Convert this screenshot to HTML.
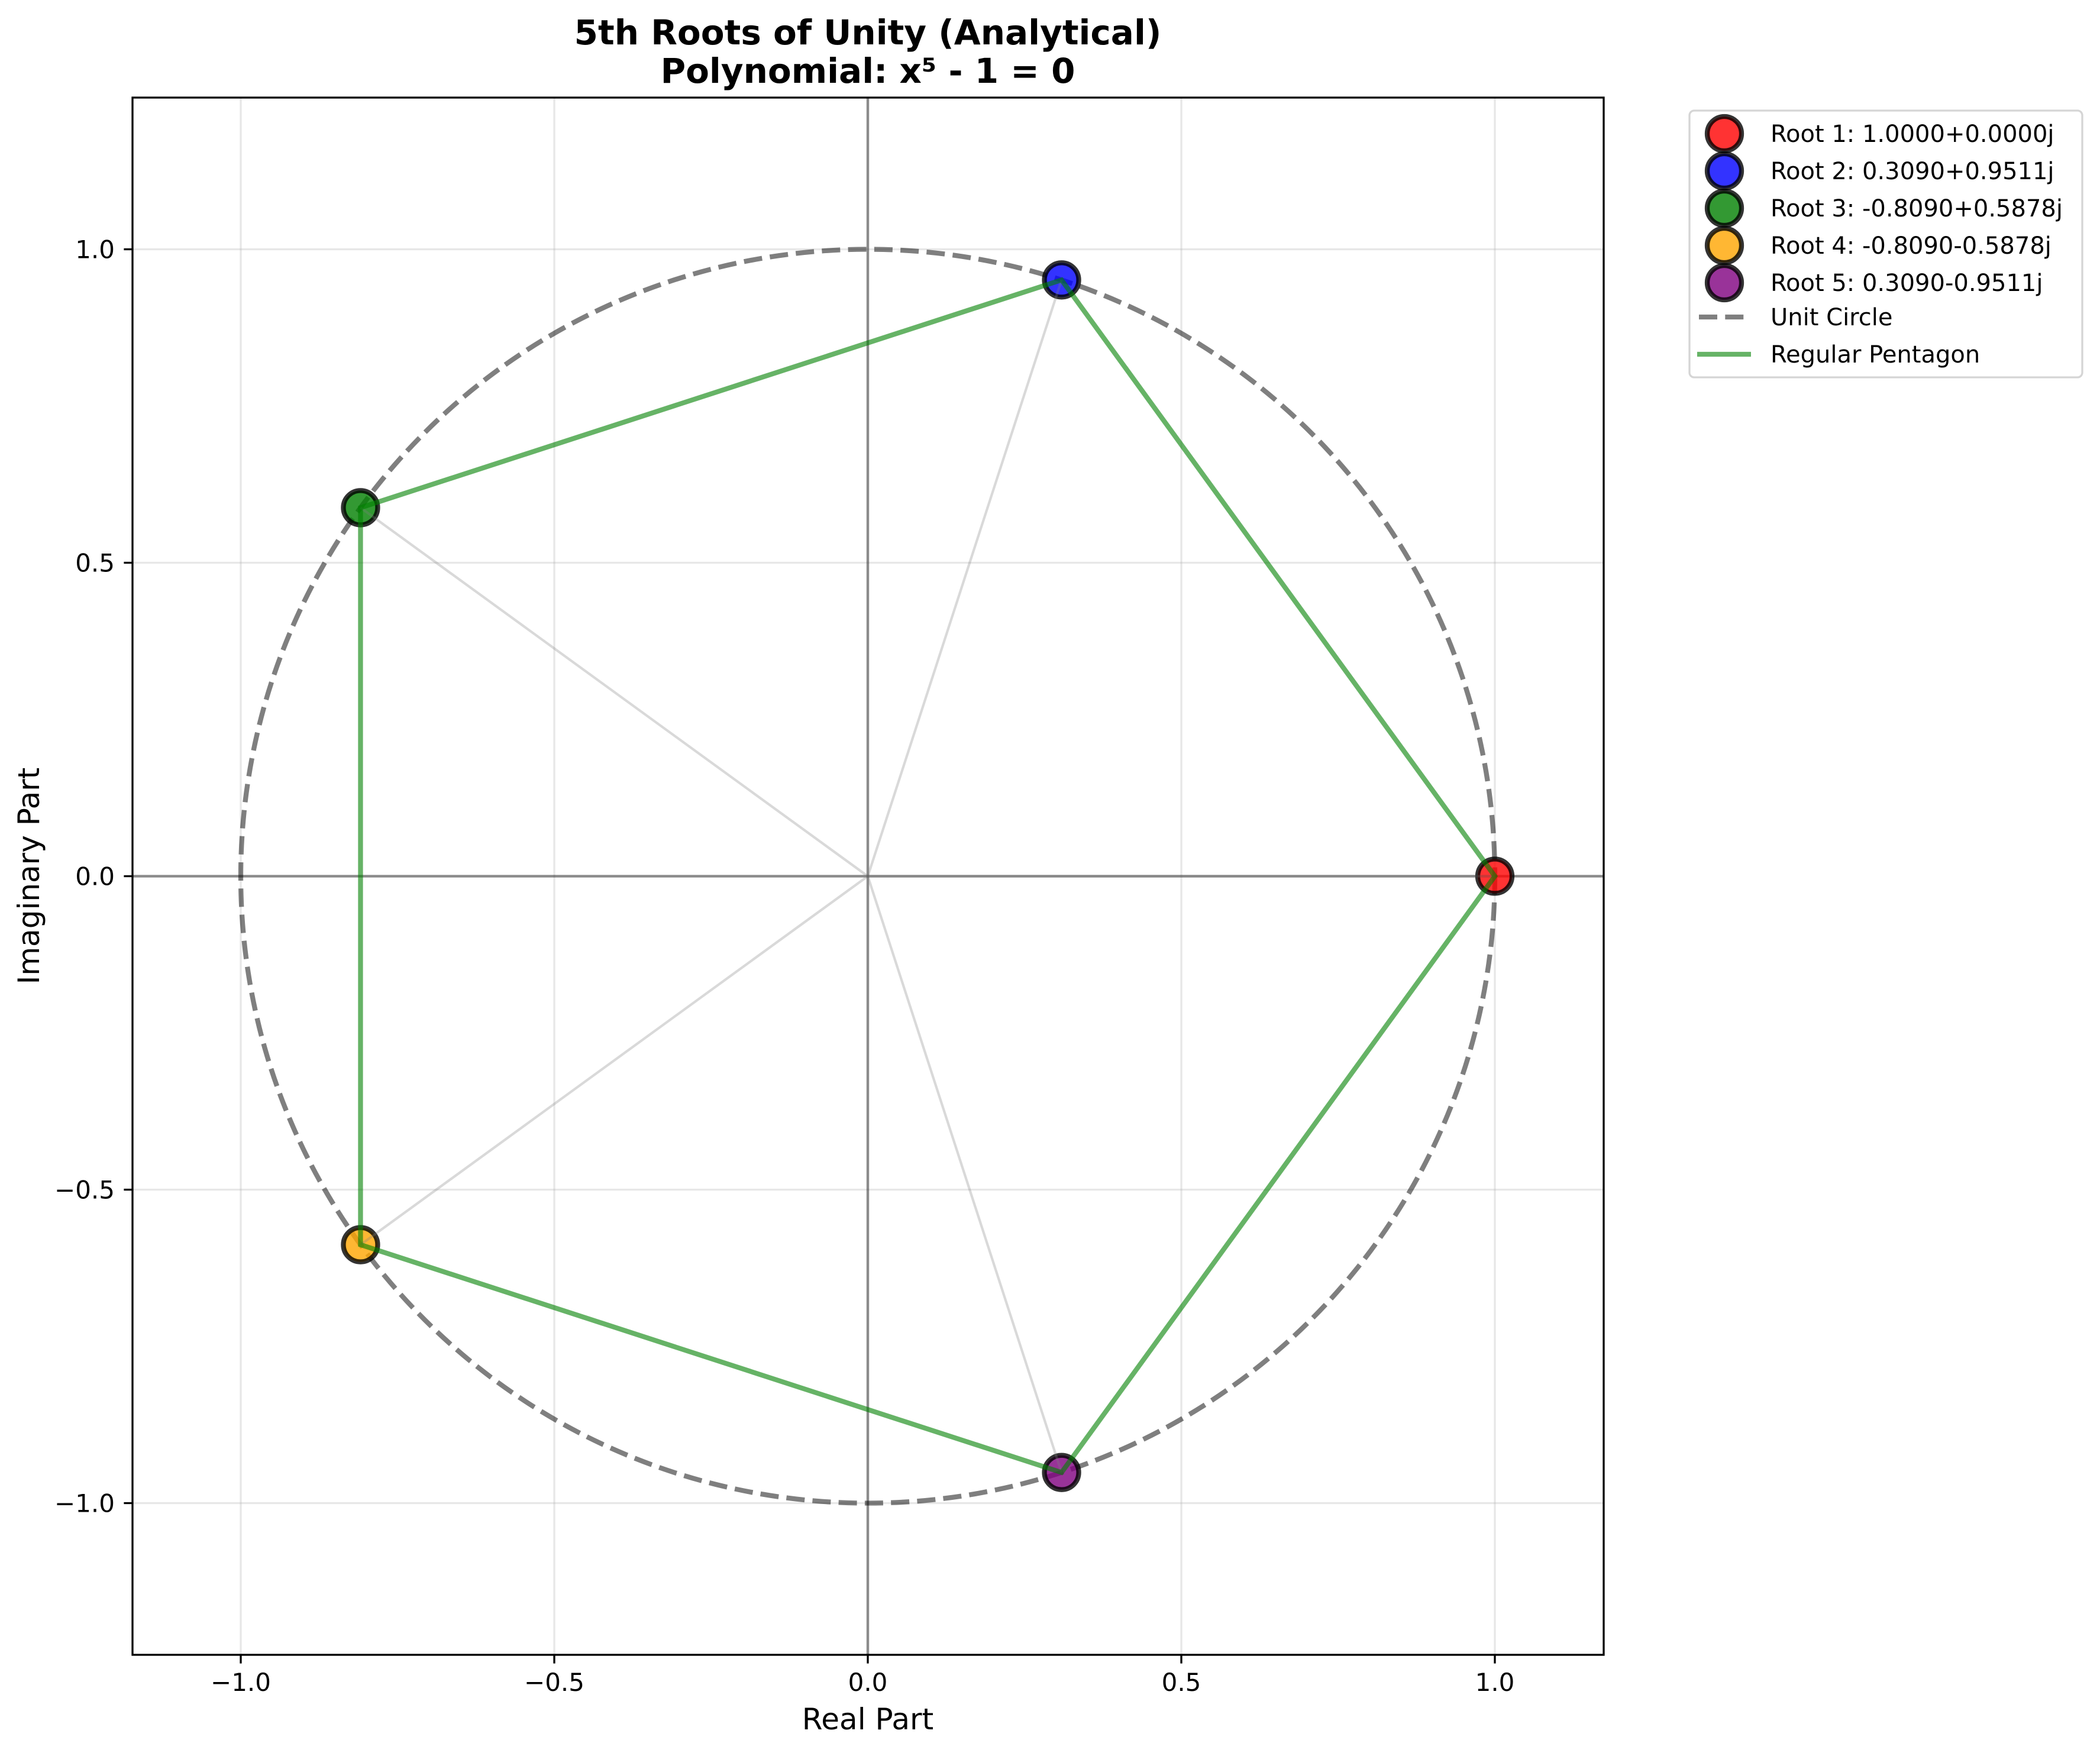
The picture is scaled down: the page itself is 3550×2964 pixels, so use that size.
<!DOCTYPE html>
<html><head><meta charset="utf-8"><style>
body{margin:0;background:#fff}
svg{display:block;font-family:"DejaVu Sans","Liberation Sans",sans-serif}
</style></head><body>
<svg id="chart" width="3550" height="2964" viewBox="0 0 3550 2964" xmlns="http://www.w3.org/2000/svg">
<rect width="3550" height="2964" fill="#fff"/>
<g id="grid"></g>
<g id="plot"></g>
<rect x="224" y="165" width="2487" height="2633" fill="none" stroke="#000" stroke-width="3.3"/>
<g id="ticks"></g>
<text x="1467" y="75" text-anchor="middle" font-size="58" font-weight="bold">5th Roots of Unity (Analytical)</text>
<text x="1467" y="140" text-anchor="middle" font-size="58" font-weight="bold">Polynomial: x⁵ - 1 = 0</text>
<text x="1467" y="2924" text-anchor="middle" font-size="50">Real Part</text>
<text transform="translate(66,1481) rotate(-90)" text-anchor="middle" font-size="50">Imaginary Part</text>
<g id="legend">
<rect x="2856" y="187" width="664" height="451" rx="8" fill="#fff" fill-opacity="0.8" stroke="#d5d5d5" stroke-width="3.3"/>
</g>
</svg>
<script>
const rootRe = [1.0000, 0.3090, -0.8090, -0.8090, 0.3090];
const rootIm = [0.0000, 0.9511, 0.5878, -0.5878, -0.9511];
const rootColors = ['red','blue','green','orange','purple'];
const rootLabels = ['Root 1: 1.0000+0.0000j','Root 2: 0.3090+0.9511j','Root 3: -0.8090+0.5878j','Root 4: -0.8090-0.5878j','Root 5: 0.3090-0.9511j'];
const xTicks = [-1.0,-0.5,0.0,0.5,1.0];
const yTicks = [-1.0,-0.5,0.0,0.5,1.0];
const xTickLabels = ['−1.0','−0.5','0.0','0.5','1.0'];
const yTickLabels = ['−1.0','−0.5','0.0','0.5','1.0'];

const NS='http://www.w3.org/2000/svg';
const L=224,R=2711,T=165,B=2798,CX=1467,CY=1481.5,S=1060;
const X=v=>CX+v*S, Y=v=>CY-v*S;
function mk(tag,attrs,parent){const e=document.createElementNS(NS,tag);for(const k in attrs)e.setAttribute(k,attrs[k]);parent.appendChild(e);return e;}
const grid=document.getElementById('grid'),plot=document.getElementById('plot'),ticks=document.getElementById('ticks'),legend=document.getElementById('legend');

xTicks.forEach((v,i)=>{
  let g=mk('line',{x1:X(v),x2:X(v),y1:T,y2:B,stroke:'#b0b0b0','stroke-opacity':0.3,'stroke-width':3.3},grid);
  
  
  let t=mk('line',{x1:X(v),x2:X(v),y1:B,y2:B+14.6,stroke:'#000','stroke-width':3.3},ticks);
  
  
  let tl=mk('text',{x:X(v),y:2859,'text-anchor':'middle','font-size':42},ticks);
  tl.textContent=xTickLabels[i];
  
  
});
yTicks.forEach((v,i)=>{
  let g=mk('line',{x1:L,x2:R,y1:Y(v),y2:Y(v),stroke:'#b0b0b0','stroke-opacity':0.3,'stroke-width':3.3},grid);
  
  
  let t=mk('line',{x1:L-14.6,x2:L,y1:Y(v),y2:Y(v),stroke:'#000','stroke-width':3.3},ticks);
  
  
  let tl=mk('text',{x:194,y:Y(v)+15,'text-anchor':'end','font-size':42},ticks);
  tl.textContent=yTickLabels[i];
  
  
});
let ax=mk('line',{x1:L,x2:R,y1:Y(0),y2:Y(0),stroke:'#000','stroke-opacity':0.4,'stroke-width':4.5},plot);


let ay=mk('line',{x1:X(0),x2:X(0),y1:T,y2:B,stroke:'#000','stroke-opacity':0.4,'stroke-width':4.5},plot);


let uc=mk('circle',{cx:X(0),cy:Y(0),r:S,fill:'none',stroke:'#000','stroke-opacity':0.5,'stroke-width':8.3,'stroke-dasharray':'31 13.3'},plot);


rootRe.forEach((re,i)=>{
  let c=mk('circle',{cx:X(re),cy:Y(rootIm[i]),r:29,fill:rootColors[i],'fill-opacity':0.8,stroke:'#000','stroke-opacity':0.8,'stroke-width':8.3},plot);
  
  
});
rootRe.forEach((re,i)=>{
  let l=mk('line',{x1:X(0),y1:Y(0),x2:X(re),y2:Y(rootIm[i]),stroke:'#808080','stroke-opacity':0.3,'stroke-width':4.2},plot);
  
  
});
let pts=rootRe.map((re,i)=>X(re)+','+Y(rootIm[i])).join(' ');
let pg=mk('polygon',{points:pts,fill:'none',stroke:'green','stroke-opacity':0.6,'stroke-width':8.3,'stroke-linejoin':'miter'},plot);


const LY0=222,LDY=63;
rootLabels.forEach((lab,i)=>{
  let y=LY0+i*LDY;
  let c=mk('circle',{cx:2915,cy:y+4,r:29,fill:rootColors[i],'fill-opacity':0.8,stroke:'#000','stroke-opacity':0.8,'stroke-width':8.3},legend);
  
  
  let t=mk('text',{x:2993,y:y+18,'font-size':40},legend);
  t.textContent=lab;
  
  
});
let ul=mk('line',{x1:2872,x2:2948,y1:536,y2:536,stroke:'#000','stroke-opacity':0.5,'stroke-width':8.3,'stroke-dasharray':'31 13.3'},legend);


let ut=mk('text',{x:2993,y:550,'font-size':40},legend);
ut.textContent='Unit Circle';


let pl=mk('line',{x1:2869,x2:2960,y1:599,y2:599,stroke:'green','stroke-opacity':0.6,'stroke-width':8.3},legend);


let pt=mk('text',{x:2993,y:613,'font-size':40},legend);
pt.textContent='Regular Pentagon';


</script>
</body></html>
